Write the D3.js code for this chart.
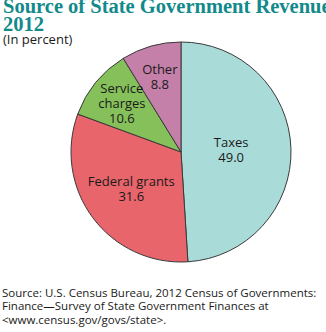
<!DOCTYPE html>
<html>
<head>
<meta charset="utf-8">
<script src="https://cdn.jsdelivr.net/npm/d3@7"></script>
<style>
  body { margin: 0; background: #fff; }
  .title { font-family: "Liberation Serif", serif; font-weight: bold; fill: #128a8b; }
  .sub, .slice-label, .note { font-family: "Open Sans", sans-serif; fill: #1a1a1a; }
</style>
</head>
<body>
<div class="vis-pie"></div>
<script>
// revenue shares, percent
const sources = ["Taxes", "Federal grants", "Service charges", "Other"];
const shares = [49.0, 31.6, 10.6, 8.8];
const colors = ["#a9dcd9", "#e8656b", "#86c05b", "#c580a9"];
// how each label is broken into lines
const labelLines = [["Taxes"], ["Federal grants"], ["Service", "charges"], ["Other"]];
const noteLines = [
  "Source: U.S. Census Bureau, 2012 Census of Governments:",
  "Finance\u2014Survey of State Government Finances at",
  "<www.census.gov/govs/state>."
];

const width = 326;
const height = 332;
const radius = 110;
const cx = 181;
const cy = 152;

const svg = d3
  .select(".vis-pie")
  .append("svg")
  .attr("width", width)
  .attr("height", height);

svg.append("text").attr("class", "title").attr("x", 3).attr("y", 12.5)
  .attr("font-size", 20.5).text("Source of State Government Revenue");
svg.append("text").attr("class", "title").attr("x", 3).attr("y", 31)
  .attr("font-size", 20.5).text("2012");
svg.append("text").attr("class", "sub").attr("x", 3).attr("y", 44)
  .attr("font-size", 13).text("(In percent)");

const data = sources.map((s, i) => ({ name: s, value: shares[i], color: colors[i], lines: labelLines[i] }));

const pie = d3.pie().sort(null).value((d) => d.value);
const arc = d3.arc().innerRadius(0).outerRadius(radius);
// the thinner the slice, the further out its label sits
const labelArc = (d) => {
  const r = radius * (0.76 - 0.0062 * d.data.value);
  return d3.arc().innerRadius(r).outerRadius(r).centroid(d);
};

const g = svg.append("g").attr("transform", "translate(" + cx + "," + cy + ")");

g.selectAll(".slice")
  .data(pie(data))
  .enter()
  .append("path")
  .attr("class", "slice")
  .attr("d", arc)
  .attr("fill", (d) => d.data.color)
  .attr("stroke", "#3a3a3a")
  .attr("stroke-width", 1);

const lineH = 15;
const labels = g.selectAll(".slice-label")
  .data(pie(data))
  .enter()
  .append("text")
  .attr("class", "slice-label")
  .attr("font-size", 13)
  .attr("text-anchor", "middle")
  .attr("transform", (d) => "translate(" + labelArc(d) + ")");

labels.each(function (d) {
  const rows = d.data.lines.concat([d.data.value.toFixed(1)]);
  const top = -((rows.length - 1) * lineH) / 2 + 4.5;
  d3.select(this)
    .selectAll("tspan")
    .data(rows)
    .enter()
    .append("tspan")
    .attr("x", 0)
    .attr("y", (r, i) => top + i * lineH)
    .text((r) => r);
});

svg.append("text")
  .attr("class", "note")
  .attr("font-size", 11.5)
  .selectAll("tspan")
  .data(noteLines)
  .enter()
  .append("tspan")
  .attr("x", 2)
  .attr("y", (d, i) => 296.5 + i * 13.8)
  .text((d) => d);
</script>
</body>
</html>
